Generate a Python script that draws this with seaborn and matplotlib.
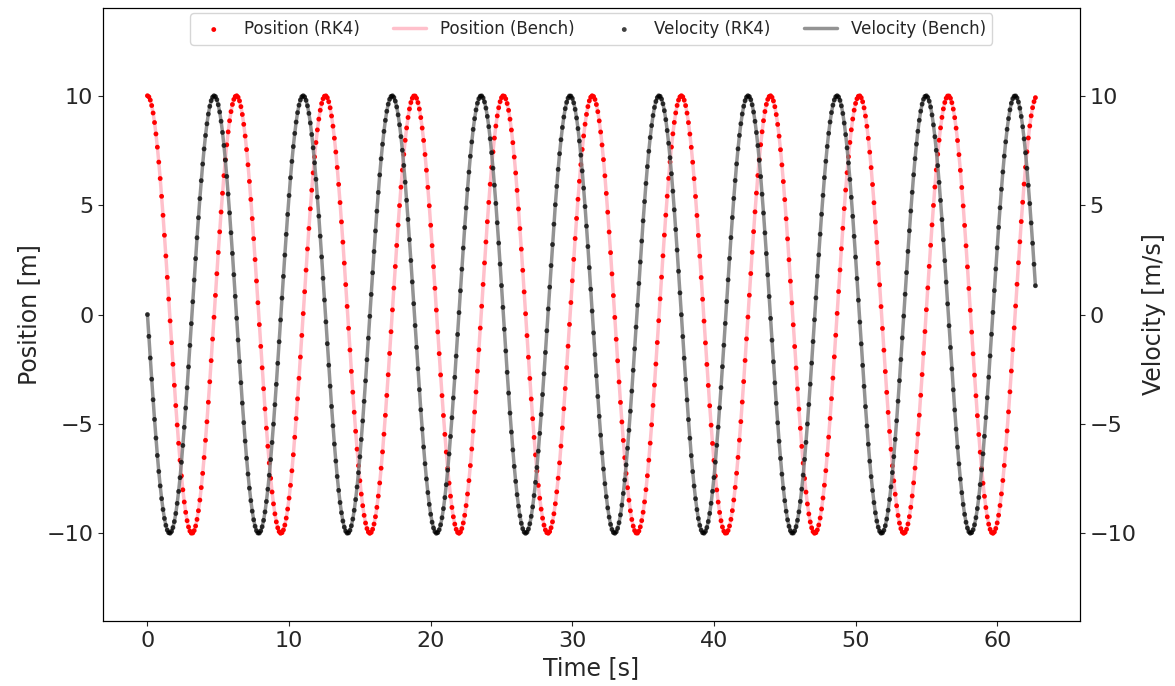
import numpy as np
import pandas as pd
import matplotlib
matplotlib.use("Agg")
import matplotlib.pyplot as plt
import seaborn as sns

# Simulation parameters (harmonic oscillator x'' = -omega^2 x)
amplitude = 10.0      # initial position [m]
v0 = 0.0              # initial velocity [m/s]
omega = 1.0
dt = 0.1
n_points = 628        # t = 0 .. 62.7 s

# RK4 integration
def deriv(state):
    x, v = state
    return np.array([v, -omega**2 * x])

t_vals = np.arange(n_points) * dt
state = np.array([amplitude, v0])
pos_rk4 = []
vel_rk4 = []
for _ in t_vals:
    pos_rk4.append(state[0])
    vel_rk4.append(state[1])
    k1 = deriv(state)
    k2 = deriv(state + 0.5 * dt * k1)
    k3 = deriv(state + 0.5 * dt * k2)
    k4 = deriv(state + dt * k3)
    state = state + dt / 6 * (k1 + 2 * k2 + 2 * k3 + k4)

# Benchmark (analytic solution)
pos_bench = amplitude * np.cos(omega * t_vals)
vel_bench = -amplitude * omega * np.sin(omega * t_vals)

df = pd.DataFrame({"t": t_vals, "x_rk4": pos_rk4, "v_rk4": vel_rk4,
                   "x_bench": pos_bench, "v_bench": vel_bench})

sns.set_style("ticks")
plt.rcParams['font.family'] = ['DejaVu Sans']

fig, ax = plt.subplots(figsize=(11.75, 6.86), dpi=100)
fig.subplots_adjust(left=0.0877, right=0.919, top=0.988, bottom=0.095)
ax2 = ax.twinx()

sns.lineplot(data=df, x="t", y="x_bench", ax=ax, color="pink", linewidth=2.5,
             label="Position (Bench)", legend=False, zorder=1)
sns.scatterplot(data=df, x="t", y="x_rk4", ax=ax, color="red", s=12,
                edgecolor="none", label="Position (RK4)", legend=False, zorder=2)
sns.lineplot(data=df, x="t", y="v_bench", ax=ax2, color="gray", linewidth=2.5,
             alpha=0.85, label="Velocity (Bench)", legend=False, zorder=1)
sns.scatterplot(data=df, x="t", y="v_rk4", ax=ax2, color="black", s=12,
                edgecolor="none", alpha=0.75, label="Velocity (RK4)", legend=False, zorder=2)

for a in (ax, ax2):
    a.set_ylim(-14, 14)
    a.set_yticks([-10, -5, 0, 5, 10])
    a.tick_params(labelsize=16)
    for s in a.spines.values():
        s.set_visible(True)
        s.set_color("black")

ax.set_xlabel("Time [s]", fontsize=17)
ax.set_ylabel("Position [m]", fontsize=17)
ax2.set_ylabel("Velocity [m/s]", fontsize=17)
ax.set_xticks([0, 10, 20, 30, 40, 50, 60])

h1, l1 = ax.get_legend_handles_labels()
h2, l2 = ax2.get_legend_handles_labels()
hd = dict(zip(l1 + l2, h1 + h2))
order = ["Position (RK4)", "Position (Bench)", "Velocity (RK4)", "Velocity (Bench)"]
ax2.legend([hd[k] for k in order], order, loc="upper center", ncol=4,
           fontsize=12, frameon=True, borderaxespad=0.3)

fig.savefig("out.png", dpi=100)
